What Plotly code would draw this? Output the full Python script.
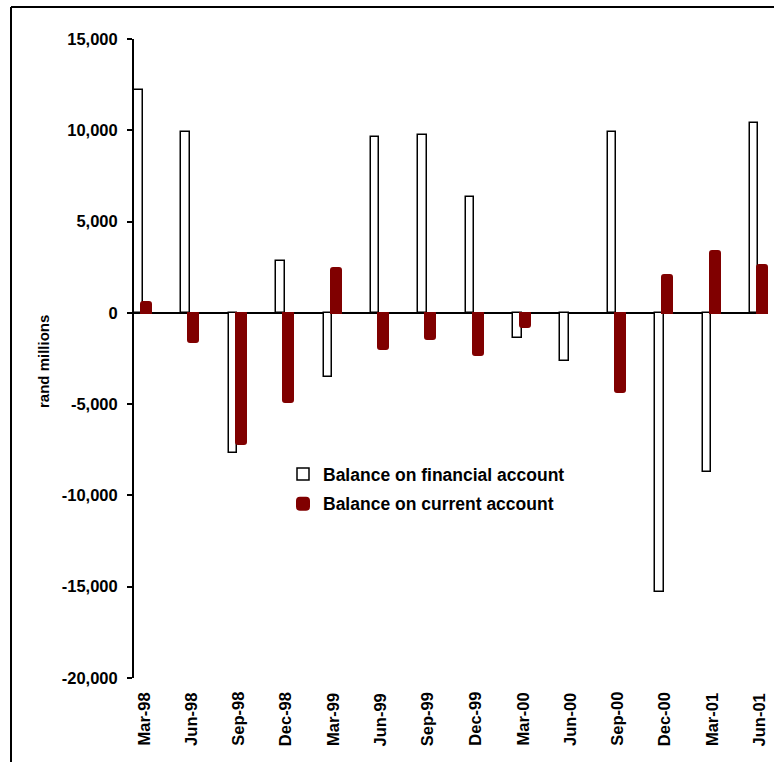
import plotly.graph_objects as go

# Quarterly balances, rand millions
quarters = ["Mar-98", "Jun-98", "Sep-98", "Dec-98", "Mar-99", "Jun-99", "Sep-99",
            "Dec-99", "Mar-00", "Jun-00", "Sep-00", "Dec-00", "Mar-01", "Jun-01"]
financial_account = [12200, 9900, -7700, 2850, -3500, 9650, 9750,
                     6350, -1400, -2650, 9900, -15300, -8700, 10400]
current_account = [600, -1600, -7200, -4900, 2450, -2000, -1450,
                   -2300, -750, None, -4350, 2050, 3400, 2600]

y_tickvals = [15000, 10000, 5000, 0, -5000, -10000, -15000, -20000]
y_ticktext = ["15,000", "10,000", "5,000", "0", "-5,000", "-10,000", "-15,000", "-20,000"]

W, H = 774, 762
ML, MR, MT, MB = 134, 6, 39, 84
PW, PH = W - ML - MR, H - MT - MB
SLOT = 47.38                      # pixels per quarter
X0 = -9 / SLOT                    # first quarter sits just right of the value axis
X1 = X0 + PW / SLOT

FONT = "Arial, Liberation Sans, sans-serif"
MAROON = "#800000"


def px_x(p):
    return (p - ML) / PW


def px_y(p):
    return (H - MB - p) / PH


fig = go.Figure()
fig.add_trace(go.Bar(
    x=quarters, y=financial_account, name="Balance on financial account",
    marker=dict(color="white", line=dict(color="black", width=1.5)),
    width=8.5 / SLOT, offset=-9 / SLOT, legendgroup="fin",
))
fig.add_trace(go.Bar(
    x=quarters, y=current_account, name="Balance on current account",
    marker=dict(color=MAROON, line=dict(color=MAROON, width=2), cornerradius=2),
    width=10 / SLOT, offset=-2 / SLOT, legendgroup="cur",
))

annotations = [
    dict(text=q, x=q, xref="x", y=px_y(748), yref="paper", textangle=-90,
         xanchor="center", yanchor="bottom", showarrow=False,
         font=dict(family=FONT, size=16.5, color="black", weight="bold"))
    for q in quarters
]
annotations.append(dict(
    text="rand millions", x=px_x(43), xref="paper", y=px_y(362), yref="paper",
    textangle=-90, xanchor="center", yanchor="middle", showarrow=False,
    font=dict(family=FONT, size=15, color="black", weight="bold"),
))

# outer frame (top and left edges)
frame = dict(type="line", xref="paper", yref="paper",
             line=dict(color="black", width=2), layer="above")
shapes = [
    dict(frame, x0=px_x(11), x1=px_x(W + 5), y0=px_y(7), y1=px_y(7)),
    dict(frame, x0=px_x(11), x1=px_x(11), y0=px_y(7), y1=px_y(H + 5)),
]

fig.update_layout(
    width=W, height=H,
    margin=dict(l=ML, r=MR, t=MT, b=MB, autoexpand=False),
    paper_bgcolor="white", plot_bgcolor="white",
    barmode="overlay", bargap=0,
    font=dict(family=FONT, color="black"),
    showlegend=True,
    legend=dict(
        x=px_x(283), y=px_y(456), xanchor="left", yanchor="top",
        bgcolor="rgba(0,0,0,0)", traceorder="grouped", tracegroupgap=4,
        font=dict(family=FONT, size=17.5, color="black", weight="bold"),
    ),
    xaxis=dict(
        type="category", range=[X0, X1], visible=False, fixedrange=True,
    ),
    yaxis=dict(
        range=[-20000, 15000], tickvals=y_tickvals, ticktext=y_ticktext,
        showgrid=False, showline=True, linecolor="black", linewidth=2,
        ticks="outside", ticklen=5, tickwidth=1.5, tickcolor="black",
        ticklabelstandoff=6,
        tickfont=dict(family=FONT, size=16.5, color="black", weight="bold"),
        zeroline=True, zerolinecolor="black", zerolinewidth=2,
    ),
    annotations=annotations,
    shapes=shapes,
)

fig.write_html("out.html")
